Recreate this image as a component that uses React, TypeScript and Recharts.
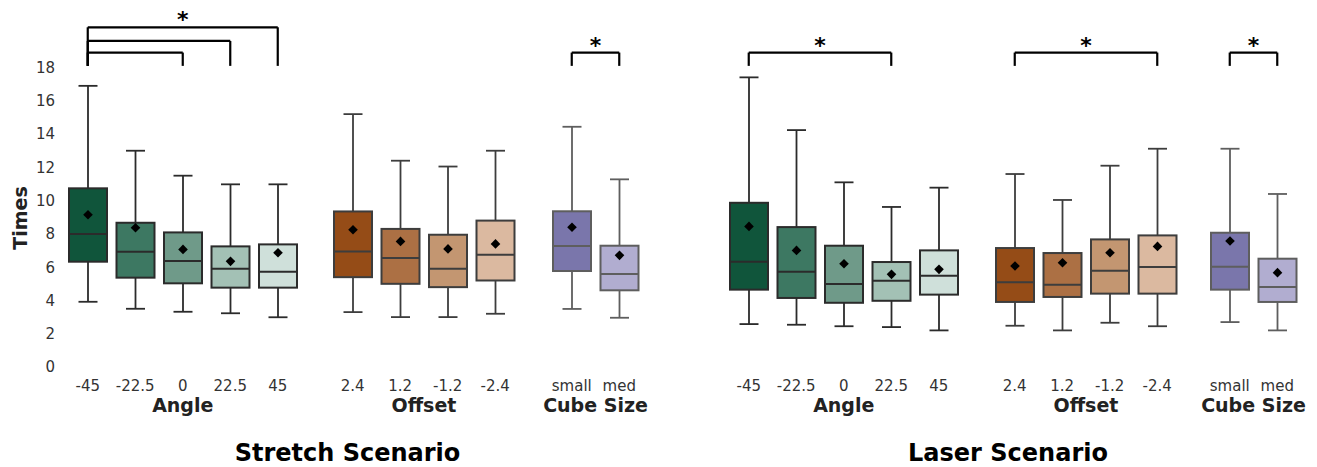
import React from 'react';
import { ComposedChart, Bar, XAxis, YAxis, ReferenceLine } from 'recharts';

const FONT = '"DejaVu Sans", Verdana, sans-serif';

// category labels
const angleCats = ['-45', '-22.5', '0', '22.5', '45'];
const offsetCats = ['2.4', '1.2', '-1.2', '-2.4'];
const cubeCats = ['small', 'med'];
const yTicks = [0, 2, 4, 6, 8, 10, 12, 14, 16, 18];

// box statistics per category: [whiskerLow, q1, median, q3, whiskerHigh, mean]
const stretchAngle = [
  [3.92, 6.33, 7.99, 10.74, 16.9, 9.15],
  [3.5, 5.37, 6.93, 8.67, 13.0, 8.37],
  [3.32, 5.03, 6.37, 8.09, 11.5, 7.07],
  [3.23, 4.77, 5.91, 7.25, 10.98, 6.35],
  [2.99, 4.77, 5.73, 7.37, 10.98, 6.87],
];
const stretchOffset = [
  [3.3, 5.4, 6.95, 9.35, 15.2, 8.25],
  [3.0, 5.0, 6.55, 8.3, 12.4, 7.55],
  [3.0, 4.8, 5.9, 7.95, 12.05, 7.1],
  [3.2, 5.2, 6.75, 8.8, 13.0, 7.4],
];
const stretchCube = [
  [3.49, 5.77, 7.27, 9.36, 14.44, 8.4],
  [2.96, 4.61, 5.59, 7.29, 11.28, 6.71],
];
const laserAngle = [
  [2.58, 4.65, 6.33, 9.87, 17.41, 8.45],
  [2.54, 4.15, 5.73, 8.41, 14.24, 7.01],
  [2.45, 3.86, 4.99, 7.29, 11.1, 6.21],
  [2.4, 3.98, 5.19, 6.31, 9.62, 5.57],
  [2.2, 4.35, 5.49, 7.01, 10.78, 5.87],
];
const laserOffset = [
  [2.48, 3.91, 5.09, 7.15, 11.6, 6.07],
  [2.2, 4.21, 4.95, 6.85, 10.04, 6.27],
  [2.66, 4.41, 5.79, 7.67, 12.1, 6.87],
  [2.45, 4.41, 6.01, 7.91, 13.12, 7.25],
];
const laserCube = [
  [2.7, 4.65, 6.03, 8.07, 13.12, 7.57],
  [2.2, 3.91, 4.81, 6.51, 10.4, 5.67],
];

// colours
const angleColors = ['#10553b', '#3d7862', '#6f9a89', '#a3c1b5', '#cfe0da'];
const offsetColors = ['#954c17', '#ac7044', '#c39671', '#dbb9a0'];
const cubeColors = ['#7a76ab', '#b1add0'];
const angleEdge = '#2b2b2b';
const offsetEdge = '#3d3d3d';
const cubeEdge = '#5e5e5e';

// significance brackets: [fromCategory, toCategory, height]
const stretchAngleBrackets: [string, string, number][] = [
  ['-45', '0', 18.9],
  ['-45', '22.5', 19.6],
  ['-45', '45', 20.42],
];
const stretchCubeBrackets: [string, string, number][] = [['small', 'med', 18.9]];
const laserAngleBrackets: [string, string, number][] = [['-45', '22.5', 18.9]];
const laserOffsetBrackets: [string, string, number][] = [['2.4', '-2.4', 18.9]];
const laserCubeBrackets: [string, string, number][] = [['small', 'med', 18.9]];
const bracketBase = 18.1;

const CHART_H = 420;
const XAXIS_H = 53;
const Y_W = 50;
const SIDE = 40;

const buildRows = (cats: string[], stats: number[][], colors: string[]) =>
  cats.map((name, i) => ({
    name,
    lo: stats[i][0],
    hi: stats[i][4],
    stats: stats[i],
    color: colors[i],
  }));

const makeBoxShape = (edge: string) => (props: any) => {
  const { x, y, width, height, payload } = props;
  if (!payload || !payload.stats) return <g />;
  const [lo, q1, med, q3, hi, mean] = payload.stats;
  const top = Math.min(y, y + height);
  const h = Math.abs(height);
  const ppu = h / (hi - lo);
  const py = (v: number) => top + (hi - v) * ppu;
  const cx = x + width / 2;
  const cap = width / 4;
  const sw = 1.8;
  const d = 4.8;
  const my = py(mean);
  return (
    <g>
      <line x1={cx} x2={cx} y1={py(hi)} y2={py(q3)} stroke={edge} strokeWidth={sw} />
      <line x1={cx} x2={cx} y1={py(q1)} y2={py(lo)} stroke={edge} strokeWidth={sw} />
      <line x1={cx - cap} x2={cx + cap} y1={py(hi)} y2={py(hi)} stroke={edge} strokeWidth={sw} />
      <line x1={cx - cap} x2={cx + cap} y1={py(lo)} y2={py(lo)} stroke={edge} strokeWidth={sw} />
      <rect x={x} y={py(q3)} width={width} height={py(q1) - py(q3)} fill={payload.color} stroke={edge} strokeWidth={2} />
      <line x1={x} x2={x + width} y1={py(med)} y2={py(med)} stroke={edge} strokeWidth={2} />
      <polygon points={`${cx},${my - d} ${cx + d},${my} ${cx},${my + d} ${cx - d},${my}`} fill="#000" />
    </g>
  );
};

type GroupProps = {
  cats: string[];
  stats: number[][];
  colors: string[];
  edge: string;
  plotLeft: number;
  plotWidth: number;
  label: string;
  showY?: boolean;
  brackets?: [string, string, number][];
};

const Group = ({ cats, stats, colors, edge, plotLeft, plotWidth, label, showY, brackets = [] }: GroupProps) => {
  const rows = buildRows(cats, stats, colors);
  const yw = showY ? Y_W : 0;
  const lines: React.ReactNode[] = [];
  brackets.forEach(([from, to, level], i) => {
    const isTop = i === brackets.length - 1;
    lines.push(
      <ReferenceLine key={`l${i}`} segment={[{ x: from, y: bracketBase }, { x: from, y: level }]} stroke="#000" strokeWidth={2.2} ifOverflow="visible" />,
      <ReferenceLine key={`r${i}`} segment={[{ x: to, y: bracketBase }, { x: to, y: level }]} stroke="#000" strokeWidth={2.2} ifOverflow="visible" />,
      <ReferenceLine
        key={`h${i}`}
        segment={[{ x: from, y: level }, { x: to, y: level }]}
        stroke="#000"
        strokeWidth={2.2}
        ifOverflow="visible"
        label={isTop ? { value: '*', position: 'top', offset: 0, fontSize: 22, fontWeight: 'bold', fill: '#000', fontFamily: FONT } : undefined}
      />
    );
  });
  return (
    <div style={{ position: 'absolute', left: plotLeft - yw - SIDE, top: 0 }}>
      <ComposedChart
        width={plotWidth + yw + 2 * SIDE}
        height={CHART_H}
        data={rows}
        margin={{ top: 1, right: SIDE, bottom: 0, left: SIDE }}
      >
        <XAxis
          dataKey="name"
          type="category"
          axisLine={false}
          tickLine={false}
          tickMargin={7}
          height={XAXIS_H}
          interval={0}
          tick={{ fontSize: 15, fill: '#333', fontFamily: FONT }}
          label={{ value: label, position: 'insideBottom', offset: 8, fontSize: 19, fontWeight: 'bold', fill: '#222', fontFamily: FONT }}
        />
        <YAxis
          type="number"
          domain={[0, 22]}
          ticks={yTicks}
          hide={!showY}
          width={Y_W}
          axisLine={false}
          tickLine={false}
          tickMargin={3}
          interval={0}
          tick={{ fontSize: 15, fill: '#333', fontFamily: FONT }}
        />
        <Bar
          dataKey={(d: any) => [d.lo, d.hi]}
          barSize={38}
          shape={makeBoxShape(edge)}
          isAnimationActive={false}
        />
        {lines}
      </ComposedChart>
    </div>
  );
};

export default function App() {
  return (
    <div style={{ position: 'absolute', left: 0, top: 0, width: 1317, height: 467, background: '#fff', overflow: 'hidden', fontFamily: FONT }}>
      <Group cats={angleCats} stats={stretchAngle} colors={angleColors} edge={angleEdge} plotLeft={64.25} plotWidth={237.5} label="Angle" showY brackets={stretchAngleBrackets} />
      <Group cats={offsetCats} stats={stretchOffset} colors={offsetColors} edge={offsetEdge} plotLeft={328.5} plotWidth={190} label="Offset" />
      <Group cats={cubeCats} stats={stretchCube} colors={cubeColors} edge={cubeEdge} plotLeft={547.5} plotWidth={95} label="Cube Size" brackets={stretchCubeBrackets} />
      <Group cats={angleCats} stats={laserAngle} colors={angleColors} edge={angleEdge} plotLeft={725.25} plotWidth={237.5} label="Angle" brackets={laserAngleBrackets} />
      <Group cats={offsetCats} stats={laserOffset} colors={offsetColors} edge={offsetEdge} plotLeft={990.5} plotWidth={190} label="Offset" brackets={laserOffsetBrackets} />
      <Group cats={cubeCats} stats={laserCube} colors={cubeColors} edge={cubeEdge} plotLeft={1206} plotWidth={95} label="Cube Size" brackets={laserCubeBrackets} />
      <svg width={1317} height={467} style={{ position: 'absolute', left: 0, top: 0, pointerEvents: 'none' }}>
        <text x={27} y={218} transform="rotate(-90, 27, 218)" textAnchor="middle" fontSize={19} fontWeight="bold" fill="#222" fontFamily={FONT}>Times</text>
        <text x={347.5} y={460.5} textAnchor="middle" fontSize={24} fontWeight="bold" fill="#000" fontFamily={FONT}>Stretch Scenario</text>
        <text x={1008} y={460.5} textAnchor="middle" fontSize={24} fontWeight="bold" fill="#000" fontFamily={FONT}>Laser Scenario</text>
      </svg>
    </div>
  );
}
